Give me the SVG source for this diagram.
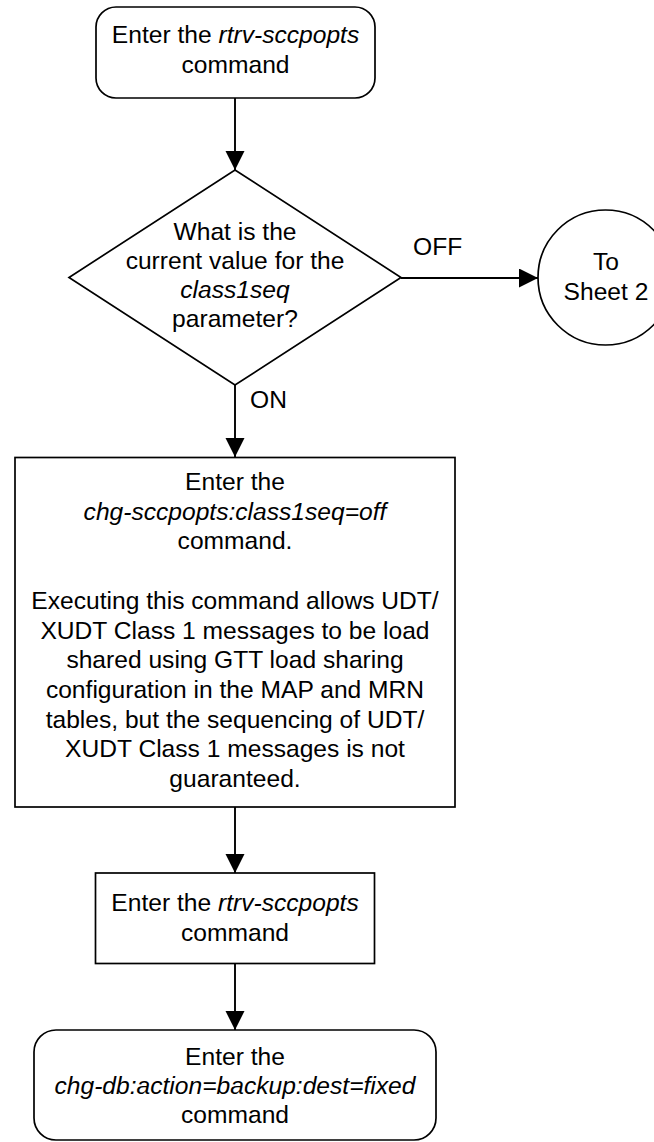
<svg xmlns="http://www.w3.org/2000/svg" width="654" height="1142" viewBox="0 0 654 1142">
<style>
.shape{fill:#fff;stroke:#000;stroke-width:1.7}
.conn{fill:none;stroke:#000;stroke-width:1.9}
text{font-family:"Liberation Sans",Arial,sans-serif;font-size:24.6px;fill:#000}
.c{text-anchor:middle}
.i{font-style:italic}
</style>
<defs>
<marker id="arr" markerUnits="userSpaceOnUse" markerWidth="20" markerHeight="20" refX="19" refY="9.5" orient="auto">
<path d="M0,0 L19,9.5 L0,19 z" fill="#000"/>
</marker>
</defs>
<rect width="654" height="1142" fill="#fff"/>
<g id="connectors">
<line class="conn" x1="235" y1="98" x2="235" y2="170" marker-end="url(#arr)"/>
<line class="conn" x1="401" y1="278" x2="538" y2="278" marker-end="url(#arr)"/>
<line class="conn" x1="235" y1="385" x2="235" y2="457" marker-end="url(#arr)"/>
<line class="conn" x1="235" y1="807" x2="235" y2="873" marker-end="url(#arr)"/>
<line class="conn" x1="235" y1="964" x2="235" y2="1030" marker-end="url(#arr)"/>
<text x="413" y="255">OFF</text>
<text x="250" y="408">ON</text>
</g>
<g id="start">
<rect class="shape" x="96" y="7" width="279" height="91" rx="20" ry="20"/>
<text class="c" x="235.5" y="43">Enter the <tspan class="i">rtrv-sccpopts</tspan></text>
<text class="c" x="235.5" y="73">command</text>
</g>
<g id="decision">
<polygon class="shape" points="235,170 401,277.5 235,385 69,277.5"/>
<text class="c" x="235" y="240">What is the</text>
<text class="c" x="235" y="269">current value for the</text>
<text class="c i" x="235" y="298">class1seq</text>
<text class="c" x="235" y="327">parameter?</text>
</g>
<g id="sheet2">
<circle class="shape" cx="605.5" cy="277.5" r="67.5"/>
<text class="c" x="606" y="270">To</text>
<text class="c" x="606" y="300">Sheet 2</text>
</g>
<g id="chg">
<rect class="shape" x="15" y="457.5" width="440" height="349.5"/>
<text class="c" x="235" y="490">Enter the</text>
<text class="c i" x="235" y="519.7">chg-sccpopts:class1seq=off</text>
<text class="c" x="235" y="549.4">command.</text>
<text class="c" x="235" y="608.8">Executing this command allows UDT/</text>
<text class="c" x="235" y="638.5">XUDT Class 1 messages to be load</text>
<text class="c" x="235" y="668.2">shared using GTT load sharing</text>
<text class="c" x="235" y="697.9">configuration in the MAP and MRN</text>
<text class="c" x="235" y="727.6">tables, but the sequencing of UDT/</text>
<text class="c" x="235" y="757.3">XUDT Class 1 messages is not</text>
<text class="c" x="235" y="787">guaranteed.</text>
</g>
<g id="rtrv2">
<rect class="shape" x="95.5" y="873" width="279" height="90.5"/>
<text class="c" x="235" y="911">Enter the <tspan class="i">rtrv-sccpopts</tspan></text>
<text class="c" x="235" y="941">command</text>
</g>
<g id="backup">
<rect class="shape" x="34" y="1030" width="402" height="110" rx="22" ry="22"/>
<text class="c" x="235" y="1065">Enter the</text>
<text class="c i" x="235" y="1094">chg-db:action=backup:dest=fixed</text>
<text class="c" x="235" y="1123">command</text>
</g>
</svg>
